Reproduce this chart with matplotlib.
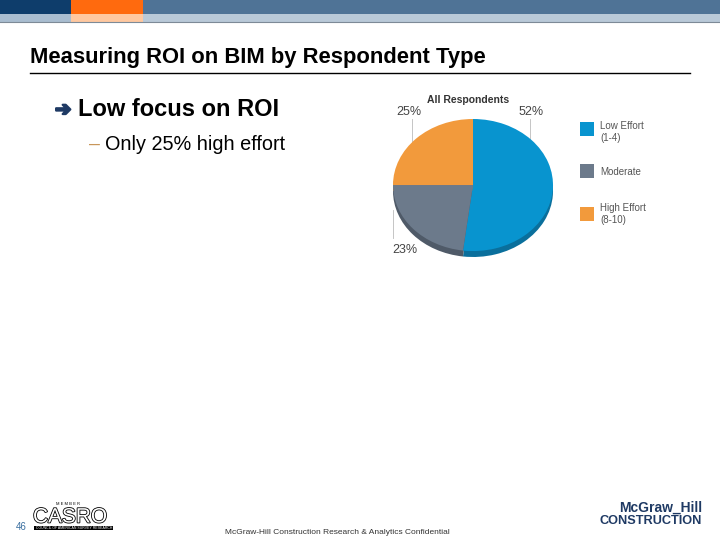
import matplotlib
matplotlib.use('Agg')
import matplotlib.pyplot as plt
import matplotlib.patches as mpatches
import matplotlib.patheffects as pe

# data
labels = ['Low Effort\n(1-4)', 'Moderate', 'High Effort\n(8-10)']
values = [52, 23, 25]
colors = ['#0894cf', '#6c7a8b', '#f29a3c']
shadow_colors = ['#0a6f9c', '#4f5a68', '#b87530']
pct_text = ['52%', '23%', '25%']

fig = plt.figure(figsize=(7.2, 5.4), dpi=100)
bg = fig.add_axes([0, 0, 1, 1])
bg.set_xlim(0, 720)
bg.set_ylim(540, 0)
bg.axis('off')

# header bars
bg.add_patch(mpatches.Rectangle((0, 0), 71, 14, color='#0e3d6b', lw=0))
bg.add_patch(mpatches.Rectangle((71, 0), 72, 14, color='#ff6a0e', lw=0))
bg.add_patch(mpatches.Rectangle((143, 0), 577, 14, color='#4f7396', lw=0))
bg.add_patch(mpatches.Rectangle((0, 14), 71, 8, color='#a9bdd0', lw=0))
bg.add_patch(mpatches.Rectangle((71, 14), 72, 8, color='#ffc8a0', lw=0))
bg.add_patch(mpatches.Rectangle((143, 14), 577, 8, color='#b9c9d8', lw=0))
bg.plot([0, 720], [22, 22], color='#7d8a97', lw=0.8)

# title
bg.text(30, 57, 'Measuring ROI on BIM by Respondent Type', fontsize=15.8,
        fontweight='bold', family='Liberation Sans',
        va='center', ha='left', color='black')
bg.plot([30, 690], [73, 73], color='black', lw=1)

# bullets
bg.text(55, 110, '\u2794', fontsize=14, color='#1f3a64', va='center',
        family='DejaVu Sans', fontweight='bold',
        path_effects=[pe.withStroke(linewidth=1.6, foreground='#1f3a64')])
bg.text(78, 110, 'Low focus on ROI', fontsize=17, fontweight='bold',
        family='Liberation Sans', va='center')
bg.text(89, 144, '\u2013', fontsize=14, color='#c8965a', va='center',
        family='Liberation Sans')
bg.text(105, 144, 'Only 25% high effort', fontsize=14.3,
        family='Liberation Sans', va='center')

# pie chart (slightly flattened, with a drop edge underneath)
pax = fig.add_axes([393 / 720, 1 - 257 / 540, 160 / 720, 138 / 540])
pax.pie(values, colors=shadow_colors, startangle=90, counterclock=False,
        center=(0, -0.09), radius=1.0, wedgeprops=dict(lw=0))
pax.pie(values, colors=colors, startangle=90, counterclock=False,
        radius=1.0, wedgeprops=dict(lw=0))
pax.set_aspect('auto')
pax.set_xlim(-1, 1)
pax.set_ylim(-1.09, 1)
pax.axis('off')

bg.text(468, 100, 'All Respondents', fontsize=7.5, fontweight='bold',
        family='Liberation Sans', ha='center', va='center', color='#333333')
bg.text(531, 112, pct_text[0], fontsize=9, family='Liberation Sans',
        ha='center', va='center', color='#444444')
bg.text(405, 250, pct_text[1], fontsize=9, family='Liberation Sans',
        ha='center', va='center', color='#444444')
bg.text(409, 112, pct_text[2], fontsize=9, family='Liberation Sans',
        ha='center', va='center', color='#444444')
bg.plot([530, 530], [119, 155], color='#bbbbbb', lw=0.6, zorder=5)
bg.plot([412, 412], [119, 153], color='#bbbbbb', lw=0.6, zorder=5)
bg.plot([393, 393], [210, 238], color='#bbbbbb', lw=0.6, zorder=5)

# legend
sq_y = [129, 171, 214]
txt_y = [132, 172, 214]
for c, lab, y, ty in zip(colors, labels, sq_y, txt_y):
    bg.add_patch(mpatches.Rectangle((580, y - 7), 14, 14, color=c, lw=0))
    bg.text(600, ty, lab, fontsize=7, family='Liberation Sans',
            va='center', ha='left', color='#555555', linespacing=1.15)

# footer
bg.text(16, 527, '46', fontsize=7, color='#3a6fa0', va='center',
        family='Liberation Sans')
bg.text(56, 504, 'M E M B E R', fontsize=3, va='center', ha='left',
        family='Liberation Sans')
bg.text(33, 517, 'CASRO', fontsize=15, va='center', ha='left', color='white',
        family='Liberation Sans',
        path_effects=[pe.withStroke(linewidth=1.2, foreground='black')])
bg.add_patch(mpatches.Rectangle((34, 526), 79, 4, color='black', lw=0))
bg.text(36, 528, 'COUNCIL OF AMERICAN SURVEY RESEARCH', fontsize=2.5,
        color='white', va='center', ha='left', family='Liberation Sans')
bg.text(337, 532, 'McGraw-Hill Construction Research & Analytics Confidential',
        fontsize=6, color='#333333', ha='center', va='center',
        family='Liberation Sans')
bg.text(702, 508, 'McGraw_Hill', fontsize=10, fontweight='bold',
        color='#1f3a64', ha='right', va='center', family='Liberation Sans')
bg.text(702, 521, 'CONSTRUCTION', fontsize=9.2, fontweight='bold',
        color='#1f3a64', ha='right', va='center', family='Liberation Sans')

fig.savefig('out.png', dpi=100)
